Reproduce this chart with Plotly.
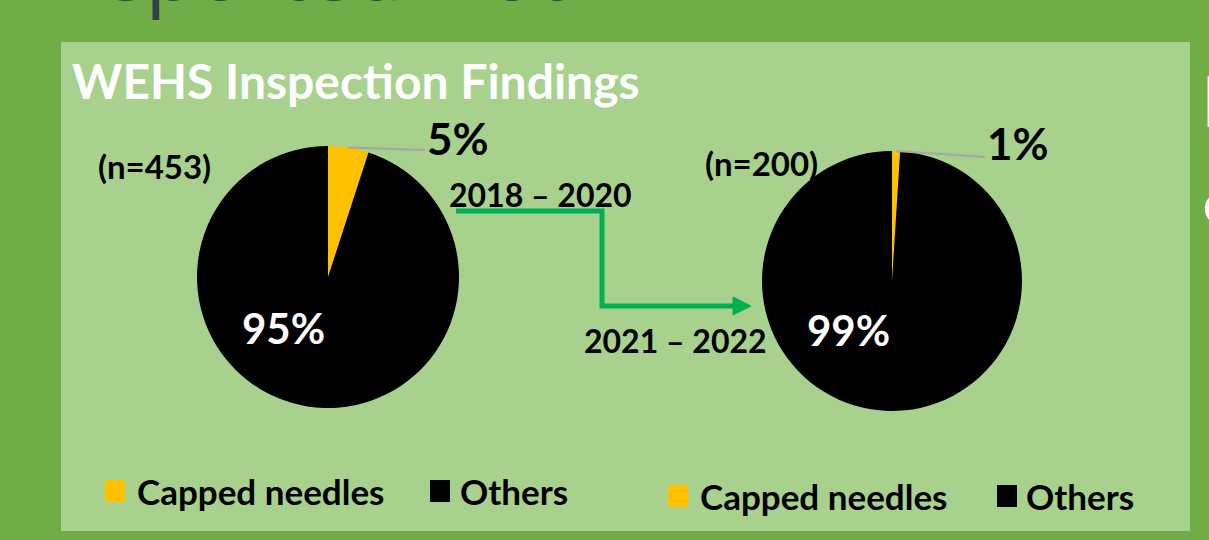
import math
import plotly.graph_objects as go

W, H = 1209, 540

categories = ["Capped needles", "Others"]
colors = ["#FFC000", "#000000"]
period_a = "2018 – 2020"
period_b = "2021 – 2022"
values_a = [5, 95]
values_b = [1, 99]
n_a = 453
n_b = 200


def px(x):
    return x / W


def py(y):
    return 1 - y / H


fig = go.Figure()

# pie placement in page pixels: center x, center y, radius
pies = [
    dict(vals=values_a, n=n_a, cx=328, cy=277, r=131),
    dict(vals=values_b, n=n_b, cx=892, cy=281, r=130),
]

for p in pies:
    fig.add_trace(go.Pie(
        labels=categories, values=p["vals"], sort=False, direction="clockwise",
        rotation=0, marker=dict(colors=colors, line=dict(width=0)),
        textinfo="none", hoverinfo="label+percent", showlegend=False,
        domain=dict(x=[px(p["cx"] - p["r"]), px(p["cx"] + p["r"])],
                    y=[py(p["cy"] + p["r"]), py(p["cy"] - p["r"])]),
    ))

font = "Lato"
ann = []
shapes = [
    dict(type="rect", xref="paper", yref="paper", x0=px(61), x1=px(1190),
         y0=py(531), y1=py(42), fillcolor="#A9D18E", line=dict(width=0), layer="below"),
]


def text(x, y, s, size, color="black", xanchor="center", yanchor="middle", family=font):
    ann.append(dict(x=px(x), y=py(y), text=s, showarrow=False, xanchor=xanchor, yanchor=yanchor,
                    font=dict(family=family, size=size, color=color)))


# percentage labels, leader lines and n labels
label_pos = [(458, 138, 425, 150, 283, 328, 154, 166), (1018, 143, 985, 157, 848, 330, 762, 163)]
for p, (lx, ly, ex, ey, ix, iy, nx, ny) in zip(pies, label_pos):
    tot = sum(p["vals"])
    small = p["vals"][0] / tot
    mid = small * math.pi  # half the slice angle, clockwise from 12 o'clock
    sx = p["cx"] + p["r"] * math.sin(mid)
    sy = p["cy"] - p["r"] * math.cos(mid)
    shapes.append(dict(type="line", xref="paper", yref="paper", x0=px(sx), y0=py(sy),
                       x1=px(ex), y1=py(ey), line=dict(color="#A6A6A6", width=2)))
    text(lx, ly, f"<b>{round(small * 100)}%</b>", 44)
    text(ix, iy, f"<b>{round(p['vals'][1] / tot * 100)}%</b>", 42, "white")
    text(nx, ny, f"<b>(n={p['n']})</b>", 33)

# period labels
text(540, 194, f"<b>{period_a}</b>", 32)
text(676, 340, f"<b>{period_b}</b>", 32)

# green step arrow
green = "#00B050"
shapes.append(dict(type="path", xref="paper", yref="paper",
                   path=f"M {px(456)},{py(211)} L {px(602)},{py(211)} L {px(602)},{py(306)} L {px(736)},{py(306)}",
                   line=dict(color=green, width=5)))
shapes.append(dict(type="path", xref="paper", yref="paper",
                   path=f"M {px(733)},{py(297)} L {px(751)},{py(306)} L {px(733)},{py(315)} Z",
                   fillcolor=green, line=dict(color=green, width=1)))

# title
text(70, 80, "<b>WEHS Inspection Findings</b>", 48, "white", xanchor="left")

# cut-off slide text around the panel
text(64, 26, "reported Not", 82, "#323F4F", xanchor="left", yanchor="bottom", family="Open Sans")
text(1200, 100, "<b>I</b>", 70, "white", xanchor="left")
text(1201, 202, "<b>c</b>", 56, "white", xanchor="left")

# legends
legend_pos = [((105, 135), (430, 458), 491), ((668, 698), (997, 1024), 496)]
for (a, b, ly) in legend_pos:
    for (sq, tx), cat, col in zip((a, b), categories, colors):
        shapes.append(dict(type="rect", xref="paper", yref="paper", x0=px(sq), x1=px(sq + 20),
                           y0=py(ly + 11), y1=py(ly - 11), fillcolor=col, line=dict(width=0)))
        text(tx, ly, f"<b>{cat}</b>", 35, xanchor="left")

fig.update_layout(
    width=W, height=H, margin=dict(l=0, r=0, t=0, b=0),
    paper_bgcolor="#70AD47", plot_bgcolor="#70AD47",
    annotations=ann, shapes=shapes, showlegend=False,
)

fig.write_html("out.html", config={"displayModeBar": False},
               post_script="document.body.style.margin='0';")
